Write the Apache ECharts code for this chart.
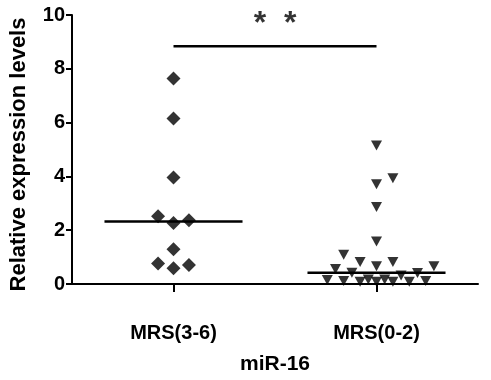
<!DOCTYPE html>
<html>
<head>
<meta charset="utf-8">
<script src="https://cdn.jsdelivr.net/npm/echarts@6/dist/echarts.min.js"></script>
<style>
html,body{margin:0;padding:0;background:#fff;}
#chart{width:491px;height:380px;}
</style>
</head>
<body>
<div id="chart"></div>
<script>
// ---- data ----
const categories = ['MRS(3-6)', 'MRS(0-2)'];
const xTitle = 'miR-16';
const yTitle = 'Relative expression levels';
const yMin = 0, yMax = 10, yInterval = 2;

// MRS(3-6) group (diamonds)
const mrs36Values = [7.64, 6.15, 3.96, 2.52, 2.27, 2.37, 1.29, 0.76, 0.59, 0.71];
const mrs36Slots  = [0, 0, 0, -1, 0, 1, 0, -1, 0, 1];

// MRS(0-2) group (down triangles)
const mrs02Values = [5.15, 3.93, 3.71, 2.86, 1.58, 1.09, 0.82, 0.66, 0.82, 0.66, 0.56, 0.42,
                     0.32, 0.41, 0.15, 0.11, 0.08, 0.17, 0.08, 0.17, 0.08, 0.08, 0.11];
const mrs02Slots  = [0, 2, 0, 0, 0, -4, -2, 0, 2, 7, -5, -3, 3, 5, -6, -4, -2, -1, 0, 1, 2, 4, 6];

const sigLabel = '*  *';
const sigLevel = 8.84;

// ---- helpers ----
function median(arr) {
  const s = arr.slice().sort((a, b) => a - b);
  const n = s.length;
  return n % 2 ? s[(n - 1) / 2] : (s[n / 2 - 1] + s[n / 2]) / 2;
}
const FONT = 'Liberation Sans, Arial, Helvetica, sans-serif';
const step36 = 0.076, step02 = 0.0404, medHalf = 0.34;

const pts36 = mrs36Values.map((v, i) => [0 + mrs36Slots[i] * step36, v]);
const pts02 = mrs02Values.map((v, i) => [1 + mrs02Slots[i] * step02, v]);
const med36 = median(mrs36Values), med02 = median(mrs02Values);

const chart = echarts.init(document.getElementById('chart'), null, {renderer: 'canvas'});
const lineStyleBlack = {color: '#000', width: 2.5};

chart.setOption({
  backgroundColor: '#fff',
  animation: false,
  grid: {left: 68, right: 13, top: 15, bottom: 92, containLabel: false},
  xAxis: [{
    type: 'category',
    data: categories,
    boundaryGap: true,
    name: xTitle,
    nameLocation: 'middle',
    nameGap: 70,
    nameTextStyle: {fontFamily: FONT, fontWeight: 'bold', fontSize: 21, color: '#000'},
    axisLine: {show: true, onZero: false, lineStyle: {color: '#000', width: 2}},
    axisTick: {show: true, alignWithLabel: true, length: 8, lineStyle: {color: '#000', width: 2}},
    axisLabel: {fontFamily: FONT, fontWeight: 'bold', fontSize: 20, color: '#000', margin: 39},
    splitLine: {show: false}
  }, {
    type: 'value', min: -0.5, max: 1.5, show: false
  }],
  yAxis: {
    type: 'value', min: yMin, max: yMax, interval: yInterval,
    name: yTitle,
    nameLocation: 'middle',
    nameGap: 42,
    nameTextStyle: {fontFamily: FONT, fontWeight: 'bold', fontSize: 22, color: '#000', padding: [0, 10, 0, 0]},
    axisLine: {show: true, onZero: false, lineStyle: {color: '#000', width: 2}},
    axisTick: {show: true, inside: false, length: 6, lineStyle: {color: '#000', width: 2}},
    axisLabel: {fontFamily: FONT, fontWeight: 'bold', fontSize: 20, color: '#000', margin: 7},
    splitLine: {show: false}
  },
  series: [{
    type: 'scatter', xAxisIndex: 1, data: pts36,
    symbol: 'diamond', symbolSize: [14, 14],
    itemStyle: {color: '#000'}
  }, {
    type: 'scatter', xAxisIndex: 1, data: pts02,
    symbol: 'triangle', symbolSize: [11, 10], symbolRotate: 180,
    itemStyle: {color: '#000'}
  }, {
    type: 'line', xAxisIndex: 1, data: [[0 - medHalf, med36], [0 + medHalf, med36]],
    symbol: 'none', lineStyle: lineStyleBlack, z: 1
  }, {
    type: 'line', xAxisIndex: 1, data: [[1 - medHalf, med02], [1 + medHalf, med02]],
    symbol: 'none', lineStyle: lineStyleBlack, z: 1
  }, {
    type: 'line', xAxisIndex: 1, data: [[0, sigLevel], [1, sigLevel]],
    symbol: 'none', lineStyle: lineStyleBlack
  }, {
    type: 'scatter', xAxisIndex: 1, data: [[0.5, sigLevel]],
    symbolSize: 0, silent: true,
    label: {show: true, position: 'top', distance: 6, formatter: sigLabel,
            fontFamily: FONT, fontWeight: 'bold', fontSize: 32, color: '#000'}
  }]
});
</script>
</body>
</html>
